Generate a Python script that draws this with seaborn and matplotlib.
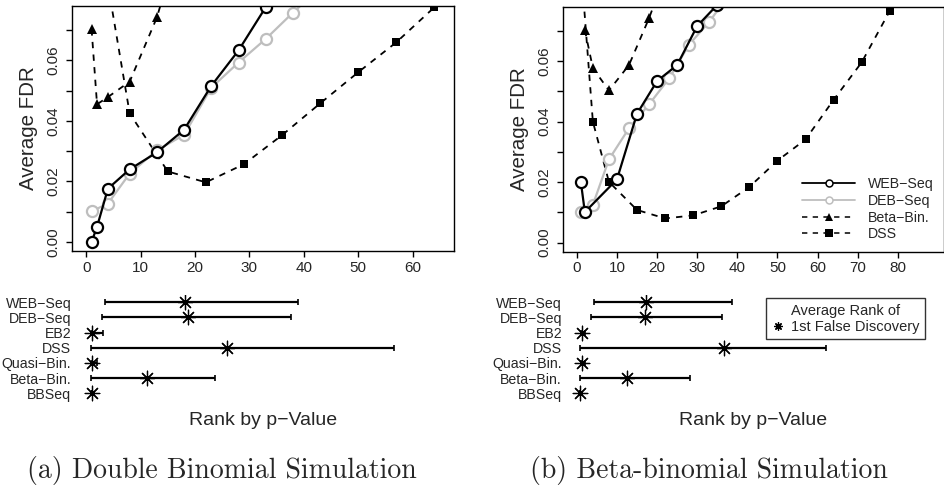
import matplotlib
matplotlib.use("Agg")
import matplotlib.pyplot as plt
import seaborn as sns
from matplotlib.lines import Line2D

# (a) double binomial simulation: average FDR by rank
a_web_x = [1, 2, 4, 8, 13, 18, 23, 28, 33, 38]
a_web_y = [0.000, 0.005, 0.0176, 0.024, 0.0296, 0.0371, 0.0516, 0.0633, 0.0776, 0.090]
a_deb_x = [1, 4, 8, 13, 18, 23, 28, 33, 38, 43]
a_deb_y = [0.0101, 0.0127, 0.0226, 0.0303, 0.0354, 0.0510, 0.0593, 0.0671, 0.0758, 0.084]
a_bb_x = [1, 2, 4, 8, 13, 18]
a_bb_y = [0.0703, 0.0455, 0.0479, 0.053, 0.0742, 0.105]
a_dss_x = [1, 8, 15, 22, 29, 36, 43, 50, 57, 64]
a_dss_y = [0.117, 0.0425, 0.0233, 0.0197, 0.0257, 0.0353, 0.0458, 0.0561, 0.066, 0.0776]

# (b) beta-binomial simulation
b_web_x = [1, 2, 10, 15, 20, 25, 30, 35, 40]
b_web_y = [0.0201, 0.0101, 0.0209, 0.0426, 0.0534, 0.0587, 0.0716, 0.0786, 0.088]
b_deb_x = [1, 4, 8, 13, 18, 23, 28, 33, 38]
b_deb_y = [0.0101, 0.0125, 0.0275, 0.0378, 0.0457, 0.0543, 0.0655, 0.073, 0.082]
b_bb_x = [2, 4, 8, 13, 18, 23]
b_bb_y = [0.0703, 0.0577, 0.0503, 0.0587, 0.0742, 0.092]
b_dss_x = [1, 4, 8, 15, 22, 29, 36, 43, 50, 57, 64, 71, 78]
b_dss_y = [0.092, 0.040, 0.0201, 0.0108, 0.008, 0.009, 0.012, 0.0184, 0.0271,
           0.0341, 0.0472, 0.0596, 0.0766]

# rank of first false discovery (range and average)
methods = ["WEB\u2212Seq", "DEB\u2212Seq", "EB2", "DSS", "Quasi\u2212Bin.", "Beta\u2212Bin.", "BBSeq"]
a_rank_mean = [18.2, 18.8, 1.1, 25.8, 1.1, 11.1, 1.1]
a_rank_lo = [3.5, 2.9, 1.0, 0.9, 1.0, 0.9, 1.0]
a_rank_hi = [39.0, 37.7, 3.1, 56.6, 2.0, 23.6, 1.0]
b_rank_mean = [17.2, 17.0, 1.4, 36.8, 1.4, 12.5, 0.9]
b_rank_lo = [4.2, 3.5, 1.0, 0.9, 1.0, 0.9, 0.9]
b_rank_hi = [38.6, 36.1, 2.1, 62.2, 2.0, 28.1, 0.9]

y_ticks = [0.00, 0.01, 0.02, 0.03, 0.04, 0.05, 0.06, 0.07]
y_ticklabels = ["0.00", "", "0.02", "", "0.04", "", "0.06", ""]
a_xticks = [0, 10, 20, 30, 40, 50, 60]
b_xticks = [0, 10, 20, 30, 40, 50, 60, 70, 80]

sns.set_style("white")
plt.rcParams["font.family"] = ["Liberation Sans", "DejaVu Sans"]

W, H = 945, 486
fig = plt.figure(figsize=(W / 100, H / 100), dpi=100)


def px_axes(x0, y0, x1, y1):
    # axes from pixel box (top-left origin)
    return fig.add_axes([x0 / W, 1 - y1 / H, (x1 - x0) / W, (y1 - y0) / H])


GRAY = "#BEBEBE"
DASH = (0, (3.5, 3.5))


def fdr_panel(ax, web, deb, bb, dss, xlim, xticks):
    sns.lineplot(x=dss[0], y=dss[1], ax=ax, color="black", lw=1.3, linestyle=DASH,
                 marker="s", markersize=6.2, markeredgewidth=0)
    sns.lineplot(x=bb[0], y=bb[1], ax=ax, color="black", lw=1.3, linestyle=DASH,
                 marker="^", markersize=7, markeredgewidth=0)
    sns.lineplot(x=deb[0], y=deb[1], ax=ax, color=GRAY, lw=1.6, marker="o",
                 markersize=8, markerfacecolor="white", markeredgecolor=GRAY,
                 markeredgewidth=1.6)
    sns.lineplot(x=web[0], y=web[1], ax=ax, color="black", lw=1.6, marker="o",
                 markersize=8, markerfacecolor="white", markeredgecolor="black",
                 markeredgewidth=1.6)
    ax.set_xlim(*xlim)
    ax.set_ylim(-0.003, 0.078)
    ax.set_xticks(xticks)
    ax.set_yticks(y_ticks)
    ax.set_yticklabels(y_ticklabels)
    ax.tick_params(axis="both", direction="out", length=4.5, width=1, color="black",
                   labelsize=11, left=True, bottom=True)
    ax.tick_params(axis="x", pad=2.5)
    ax.tick_params(axis="y", pad=4, labelrotation=90)
    for lab in ax.get_yticklabels():
        lab.set_va("center")
    for s in ax.spines.values():
        s.set_color("black")
        s.set_linewidth(1)
    ax.set_xlabel("")
    ax.set_ylabel("Average FDR", fontsize=14.8, labelpad=6)


def rank_panel(ax, mean, lo, hi, xlim):
    ax.hlines(methods, lo, hi, color="black", lw=1.6)
    sns.scatterplot(x=lo + hi, y=methods + methods, ax=ax, marker="|", s=22,
                    color="black", linewidth=1.2)
    sns.scatterplot(x=mean, y=methods, ax=ax, marker=(8, 2, 0), s=110,
                    color="black", linewidth=0.9)
    ax.set_xlim(*xlim)
    ax.set_ylim(6.5, -0.5)
    ax.set_xticks([])
    ax.tick_params(axis="y", length=0, pad=0.5, labelsize=10.2)
    for s in ax.spines.values():
        s.set_visible(False)
    ax.set_xlabel("")
    ax.set_ylabel("")


ax_a = px_axes(72, 6, 454, 251)
fdr_panel(ax_a, (a_web_x, a_web_y), (a_deb_x, a_deb_y), (a_bb_x, a_bb_y),
          (a_dss_x, a_dss_y), (-2.6, 67.6), a_xticks)

ax_b = px_axes(562.7, 6.7, 944, 251.7)
fdr_panel(ax_b, (b_web_x, b_web_y), (b_deb_x, b_deb_y), (b_bb_x, b_bb_y),
          (b_dss_x, b_dss_y), (-3.52, 91.52), b_xticks)

handles = [
    Line2D([], [], color="black", lw=1.3, marker="o", ms=5, mfc="white", mec="black", mew=1.1),
    Line2D([], [], color=GRAY, lw=1.3, marker="o", ms=5, mfc="white", mec=GRAY, mew=1.1),
    Line2D([], [], color="black", lw=1.1, ls=DASH, marker="^", ms=6, mew=0),
    Line2D([], [], color="black", lw=1.1, ls=DASH, marker="s", ms=5.5, mew=0),
]
ax_b.legend(handles, ["WEB\u2212Seq", "DEB\u2212Seq", "Beta\u2212Bin.", "DSS"],
            loc="lower right", frameon=False, fontsize=10.2, handlelength=3.7,
            handletextpad=0.9, labelspacing=0.18, borderaxespad=0.35)

ax_ra = px_axes(72, 294.7, 454, 400.9)
rank_panel(ax_ra, a_rank_mean, a_rank_lo, a_rank_hi, (-2.6, 67.6))

ax_rb = px_axes(562.7, 294.7, 944, 400.9)
rank_panel(ax_rb, b_rank_mean, b_rank_lo, b_rank_hi, (-3.52, 91.52))

# key for the asterisk markers
key = [Line2D([], [], ls="none", marker=(8, 2, 0), color="black", ms=6, mew=0.9)]
leg = ax_rb.legend(key, ["1st False Discovery"], title="Average Rank of",
                   loc="upper right", bbox_to_anchor=(925 / W, 1 - 298 / H),
                   bbox_transform=fig.transFigure, borderaxespad=0, fontsize=10.5,
                   title_fontsize=10.5, frameon=True, fancybox=False, edgecolor="black",
                   handlelength=0.8, handletextpad=0.5, borderpad=0.38)
leg.get_frame().set_linewidth(1)
leg._legend_box.sep = 1.5

fig.text(263 / W, 1 - 424.5 / H, "Rank by p\u2212Value", ha="center", va="baseline", fontsize=14)
fig.text(753 / W, 1 - 424.5 / H, "Rank by p\u2212Value", ha="center", va="baseline", fontsize=14)

fig.text(416.7 / W, 1 - 478 / H, "(a) Double Binomial Simulation", ha="right",
         va="baseline", fontsize=20, family="cmr10")
fig.text(887.7 / W, 1 - 478 / H, "(b) Beta-binomial Simulation", ha="right",
         va="baseline", fontsize=20, family="cmr10")

fig.savefig("out.png", dpi=100)
